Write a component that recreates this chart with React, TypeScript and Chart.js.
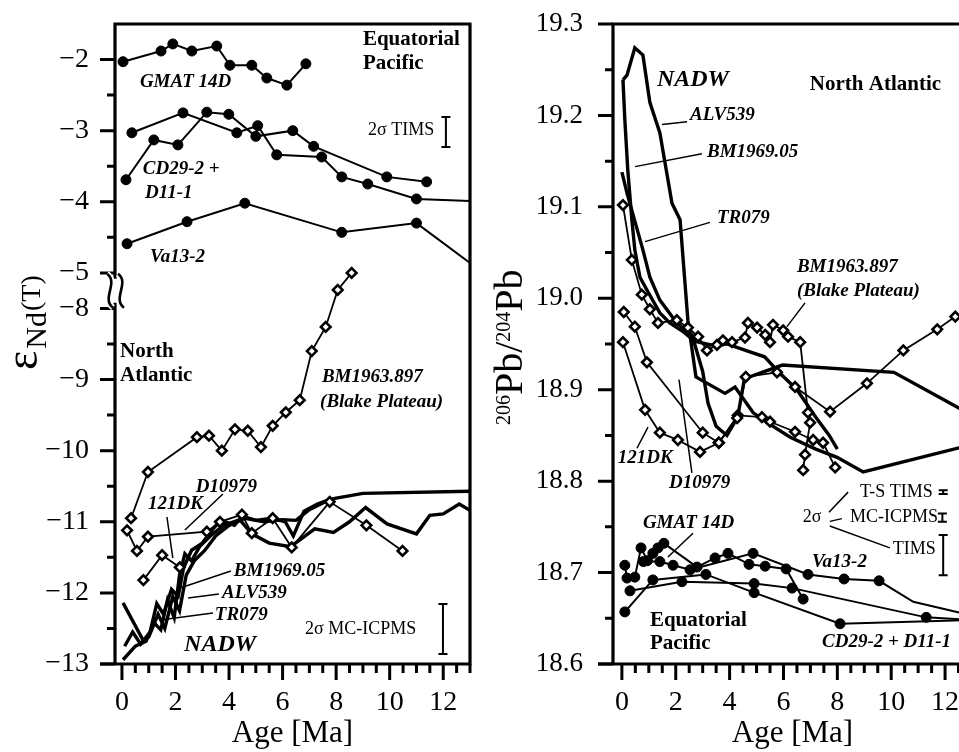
import React, { useEffect, useRef } from "react";
import { Chart, registerables } from "chart.js";

Chart.register(...registerables);

const SERIF = '"Liberation Serif", "Times New Roman", Times, serif';
const MINUS = "\u2212";

// ───────────── εNd(T) panel ─────────────
// Equatorial Pacific crusts
const GMAT14D_ND_AGE = [0.04, 1.46, 1.9, 2.61, 3.54, 4.03, 4.85, 5.41, 6.16, 6.87];
const GMAT14D_ND = [-2.03, -1.88, -1.78, -1.88, -1.81, -2.08, -2.08, -2.26, -2.36, -2.06];
const CD29_2_ND_AGE = [0.15, 1.19, 2.09, 3.17, 3.99, 5.0, 6.38, 7.16, 9.89, 11.38];
const CD29_2_ND = [-3.69, -3.13, -3.2, -2.74, -2.77, -3.08, -3.0, -3.22, -3.65, -3.72];
const D11_1_ND_AGE = [0.37, 2.28, 4.29, 5.07, 5.78, 7.46, 8.21, 9.18, 11.0, 13.0];
const D11_1_ND = [-3.03, -2.75, -3.03, -2.93, -3.34, -3.37, -3.65, -3.75, -3.96, -3.99];
const VA13_2_ND_AGE = [0.19, 2.43, 4.59, 8.21, 11.0, 13.0];
const VA13_2_ND = [-4.59, -4.28, -4.02, -4.43, -4.3, -4.86];

// North Atlantic crusts
const BM1963_ND_AGE = [0.34, 0.97, 2.8, 3.25, 3.73, 4.22, 4.7, 5.19, 5.63, 6.12, 6.64, 7.09, 7.61, 8.06, 8.58];
const BM1963_ND = [-10.95, -10.3, -9.81, -9.79, -10.0, -9.7, -9.72, -9.95, -9.65, -9.46, -9.29, -8.6, -8.26, -7.74, -7.5];
const D10979_ND_AGE = [0.19, 0.56, 0.97, 3.17, 3.66, 4.48, 4.85, 5.63, 6.34, 7.76, 9.13, 10.48];
const D10979_ND = [-11.12, -11.41, -11.21, -11.14, -11.0, -10.9, -11.16, -10.95, -11.36, -10.72, -11.05, -11.41];
const DK121_ND_AGE = [0.8, 1.5, 2.16];
const DK121_ND = [-11.82, -11.47, -11.64];
const TR079_ND_AGE = [0.04, 0.78, 1.0, 1.35, 1.6, 1.9, 2.15, 2.4, 2.7, 3.1, 3.5, 4.0, 4.6, 5.3, 6.0, 6.5, 7.0, 7.8, 9.0, 13.0];
const TR079_ND = [-12.14, -12.66, -12.62, -12.3, -12.5, -12.05, -12.25, -11.75, -11.55, -11.4, -11.2, -11.05, -10.95, -11.0, -10.97, -10.98, -10.83, -10.68, -10.6, -10.57];
const ALV539_ND_AGE = [0.04, 0.5, 0.9, 1.2, 1.45, 1.7, 1.95, 2.15, 2.35, 2.6, 2.9, 3.3, 3.8, 4.4, 4.85, 5.5, 6.3, 7.2, 7.9, 8.5, 9.1, 9.9, 11.0, 11.5, 12.0, 12.6, 13.0];
const ALV539_ND = [-12.94, -12.75, -12.68, -12.42, -12.52, -12.1, -12.35, -11.75, -11.45, -11.55, -11.35, -11.2, -11.05, -10.97, -11.17, -11.3, -11.35, -11.1, -11.15, -11.0, -10.8, -11.03, -11.17, -10.91, -10.89, -10.75, -10.84];
const BM1969_ND_AGE = [0.1, 0.4, 0.7, 1.05, 1.3, 1.55, 1.85, 2.1, 2.3, 2.6, 3.0, 3.4, 3.7, 4.2, 4.5, 5.0, 5.6, 6.1, 6.4, 6.8, 7.3, 7.8];
const BM1969_ND = [-12.75, -12.55, -12.72, -12.55, -12.15, -12.3, -11.95, -12.05, -11.65, -11.4, -11.3, -11.1, -10.98, -11.05, -10.92, -10.98, -10.95, -11.0, -11.2, -10.85, -10.75, -10.68];

const ND_MAJOR = [-2, -3, -4, -5, -8, -9, -10, -11, -12, -13];
const ND_MINOR = [-2.5, -3.5, -4.5, -8.5, -9.5, -10.5, -11.5, -12.5];

// ───────────── 206Pb/204Pb panel ─────────────
const ALV539_PB_AGE = [0.04, 0.19, 0.48, 0.78, 1.04, 1.41, 1.86, 2.16, 2.45, 2.6, 2.75, 3.83, 4.2, 4.87, 5.5, 6.25, 7.2, 7.99, 8.96, 13.0];
const ALV539_PB = [19.239, 19.244, 19.274, 19.266, 19.214, 19.181, 19.104, 19.086, 18.976, 18.945, 18.914, 18.896, 18.903, 18.875, 18.862, 18.848, 18.835, 18.826, 18.81, 18.84];
const BM1969_PB_AGE = [0.04, 0.11, 0.22, 0.37, 0.48, 0.67, 0.93, 1.41, 1.78, 2.3, 2.7, 3.3, 3.9, 4.7, 5.3, 5.8, 6.5, 7.2, 7.7, 8.0];
const BM1969_PB = [19.239, 19.195, 19.14, 19.086, 19.053, 19.023, 19.009, 18.984, 18.973, 18.963, 18.953, 18.949, 18.95, 18.942, 18.936, 18.92, 18.9, 18.87, 18.85, 18.835];
const TR079_PB_AGE = [0.0, 0.19, 0.78, 1.04, 1.41, 2.04, 2.6, 3.0, 3.2, 3.5, 3.9, 4.3, 4.55, 5.96, 10.1, 13.0];
const TR079_PB = [19.138, 19.115, 19.053, 19.023, 18.998, 18.973, 18.96, 18.92, 18.885, 18.86, 18.85, 18.87, 18.912, 18.927, 18.919, 18.872];
const BM1963_PB_AGE = [0.04, 0.37, 0.74, 1.04, 1.34, 2.04, 2.45, 2.83, 3.16, 3.53, 3.75, 4.09, 4.57, 4.68, 5.02, 5.32, 5.5, 5.61, 5.99, 6.17, 6.62, 6.91, 6.99, 6.8, 6.73];
const BM1963_PB = [19.102, 19.042, 19.004, 18.988, 18.973, 18.976, 18.968, 18.958, 18.943, 18.949, 18.954, 18.952, 18.957, 18.973, 18.968, 18.96, 18.952, 18.971, 18.965, 18.958, 18.952, 18.875, 18.864, 18.829, 18.812];
const D10979_PB_AGE = [0.07, 0.48, 0.93, 3.0, 3.6, 4.28, 4.6, 5.76, 6.43, 7.73, 9.1, 10.45, 11.71, 12.38];
const D10979_PB = [18.985, 18.969, 18.93, 18.853, 18.842, 18.869, 18.914, 18.919, 18.903, 18.876, 18.907, 18.943, 18.966, 18.98];
const DK121_PB_AGE = [0.04, 0.86, 1.41, 2.08, 2.9, 3.6, 4.3, 5.2, 5.5, 6.43, 7.1, 7.47, 7.92];
const DK121_PB = [18.952, 18.878, 18.853, 18.845, 18.832, 18.842, 18.872, 18.87, 18.865, 18.854, 18.845, 18.842, 18.815];
const GMAT14D_PB_AGE = [0.11, 0.19, 0.48, 0.71, 0.95, 1.15, 1.34, 1.56, 2.79, 3.46, 3.94, 4.72, 5.32, 6.1, 6.73];
const GMAT14D_PB = [18.708, 18.694, 18.695, 18.727, 18.713, 18.721, 18.727, 18.732, 18.706, 18.716, 18.721, 18.709, 18.707, 18.704, 18.671];
const VA13_2_PB_AGE = [0.8, 1.41, 1.9, 2.53, 4.87, 6.91, 8.25, 9.55, 10.82, 13.0];
const VA13_2_PB = [18.712, 18.712, 18.708, 18.703, 18.721, 18.698, 18.693, 18.691, 18.668, 18.653];
const CD29_2_PB_AGE = [0.11, 1.15, 3.12, 4.91, 8.1, 13.0];
const CD29_2_PB = [18.657, 18.692, 18.698, 18.678, 18.644, 18.648];
const D11_1_PB_AGE = [0.3, 2.23, 4.91, 6.32, 11.3, 13.0];
const D11_1_PB = [18.68, 18.69, 18.688, 18.683, 18.651, 18.648];

const PB_MAJOR = [18.6, 18.7, 18.8, 18.9, 19.0, 19.1, 19.2, 19.3];
const PB_MINOR = [18.65, 18.75, 18.85, 18.95, 19.05, 19.15, 19.25];

const AGE_MAJOR = [0, 2, 4, 6, 8, 10, 12];
const AGE_MINOR = [0.5, 1, 1.5, 2.5, 3, 3.5, 4.5, 5, 5.5, 6.5, 7, 7.5, 8.5, 9, 9.5, 10.5, 11, 11.5, 12.5, 13];

// The εNd axis is broken between −5 and −8; the lower block is shifted up so that
// the gap occupies half a unit.
const toAxis = (v: number) => (v < -6.5 ? v + 2.5 : v);
const fromAxis = (a: number) => (a < -5.25 ? a - 2.5 : a);
const fmtNeg = (v: number) => (v < 0 ? MINUS + String(Math.abs(v)) : String(v));

type Pt = { x: number; y: number };
type Kind = "circle" | "diamond" | "thick";

const pts = (ages: number[], vals: number[], map: (v: number) => number = (v) => v): Pt[] =>
  ages.map((a, i) => ({ x: a, y: map(vals[i]) }));

function series(label: string, data: Pt[], kind: Kind, dotted = data.length) {
  const common = { label, data, showLine: true, borderColor: "#000", clip: 0, tension: 0 };
  if (kind === "thick") {
    return { ...common, borderWidth: 3.4, pointRadius: 0, pointHoverRadius: 0 };
  }
  if (kind === "circle") {
    return {
      ...common,
      borderWidth: 2,
      pointStyle: "circle",
      pointRadius: (c: any) => (c.dataIndex < dotted ? 5 : 0),
      pointBackgroundColor: "#000",
      pointBorderColor: "#000",
      pointBorderWidth: 1,
    };
  }
  return {
    ...common,
    borderWidth: 1.8,
    pointStyle: "rectRot",
    pointRadius: (c: any) => (c.dataIndex < dotted ? 4.8 : 0),
    pointBackgroundColor: "#fff",
    pointBorderColor: "#000",
    pointBorderWidth: 2.6,
  };
}

type Label = { text: string; x: number; y: number; font: string };
type Leader = [number, number, number, number];
type ErrBar = { x: number; y1: number; y2: number };

const NAME = `italic bold 19px ${SERIF}`;
const BIG = `italic bold 24px ${SERIF}`;
const REGION = `bold 21px ${SERIF}`;
const NOTE = `18px ${SERIF}`;

interface Decor {
  yMap: (v: number) => number;
  yMajor: number[];
  yMinor: number[];
  breakAt?: [number, number];
  labels: Label[];
  leaders: Leader[];
  bars: ErrBar[];
  yTitle: (ctx: CanvasRenderingContext2D) => void;
}

function decorPlugin(d: Decor) {
  return {
    id: "decor",
    afterDatasetsDraw(chart: any) {
      const { ctx, chartArea: a, scales } = chart;
      const px = (v: number) => scales.x.getPixelForValue(v);
      const py = (v: number) => scales.y.getPixelForValue(d.yMap(v));
      ctx.save();
      ctx.strokeStyle = "#000";
      ctx.fillStyle = "#000";
      ctx.lineCap = "butt";

      // frame and axes
      ctx.lineWidth = 3.2;
      ctx.beginPath();
      ctx.moveTo(a.left - 1.5, a.top);
      ctx.lineTo(a.right + 1.5, a.top);
      ctx.moveTo(a.right, a.top);
      ctx.lineTo(a.right, a.bottom);
      ctx.moveTo(a.left - 15, a.bottom);
      ctx.lineTo(a.right + 1.5, a.bottom);
      if (d.breakAt) {
        const mid = (py(d.breakAt[0]) + py(d.breakAt[1])) / 2;
        ctx.moveTo(a.left, a.top - 1.5);
        ctx.lineTo(a.left, mid - 12);
        ctx.moveTo(a.left, mid + 12);
        ctx.lineTo(a.left, a.bottom + 1.5);
      } else {
        ctx.moveTo(a.left, a.top - 1.5);
        ctx.lineTo(a.left, a.bottom + 1.5);
      }
      ctx.stroke();

      // tick marks
      ctx.lineWidth = 3;
      ctx.beginPath();
      for (const v of d.yMajor) {
        const y = py(v);
        ctx.moveTo(a.left - 15, y);
        ctx.lineTo(a.left, y);
      }
      for (const v of d.yMinor) {
        const y = py(v);
        ctx.moveTo(a.left - 8, y);
        ctx.lineTo(a.left, y);
      }
      for (const v of AGE_MAJOR) {
        const x = px(v);
        ctx.moveTo(x, a.bottom);
        ctx.lineTo(x, a.bottom + 16);
      }
      for (const v of AGE_MINOR) {
        const x = px(v);
        ctx.moveTo(x, a.bottom);
        ctx.lineTo(x, a.bottom + 9);
      }
      ctx.stroke();

      // axis-break sign
      if (d.breakAt) {
        const mid = (py(d.breakAt[0]) + py(d.breakAt[1])) / 2;
        const wave = (cx: number) => {
          ctx.beginPath();
          ctx.moveTo(cx - 3, mid - 17);
          ctx.bezierCurveTo(cx + 9, mid - 8, cx - 9, mid + 8, cx + 3, mid + 17);
          ctx.stroke();
        };
        ctx.strokeStyle = "#fff";
        ctx.lineWidth = 6;
        wave(a.left - 5);
        wave(a.left + 6);
        ctx.strokeStyle = "#000";
        ctx.lineWidth = 2.6;
        wave(a.left - 5);
        wave(a.left + 6);
      }

      // leaders
      ctx.lineWidth = 1.5;
      ctx.beginPath();
      for (const [x1, y1, x2, y2] of d.leaders) {
        ctx.moveTo(px(x1), py(y1));
        ctx.lineTo(px(x2), py(y2));
      }
      ctx.stroke();

      // 2σ bars
      ctx.lineWidth = 2;
      ctx.beginPath();
      for (const b of d.bars) {
        const x = px(b.x);
        const y1 = py(b.y1);
        const y2 = py(b.y2);
        ctx.moveTo(x, y1);
        ctx.lineTo(x, y2);
        ctx.moveTo(x - 4.5, y1);
        ctx.lineTo(x + 4.5, y1);
        ctx.moveTo(x - 4.5, y2);
        ctx.lineTo(x + 4.5, y2);
      }
      ctx.stroke();

      // labels
      ctx.textAlign = "left";
      ctx.textBaseline = "middle";
      for (const l of d.labels) {
        ctx.font = l.font;
        ctx.fillText(l.text, px(l.x), py(l.y));
      }

      // axis titles
      ctx.textAlign = "center";
      ctx.textBaseline = "alphabetic";
      ctx.font = `31px ${SERIF}`;
      ctx.fillText("Age [Ma]", (a.left + a.right) / 2, a.bottom + 78);
      d.yTitle(ctx);
      ctx.restore();
    },
  };
}

const ND_LABELS: Label[] = [
  { text: "Equatorial", x: 9.0, y: -1.725, font: REGION },
  { text: "Pacific", x: 9.0, y: -2.05, font: REGION },
  { text: "GMAT 14D", x: 0.67, y: -2.316, font: NAME },
  { text: "CD29-2 +", x: 0.78, y: -3.54, font: NAME },
  { text: "D11-1", x: 0.86, y: -3.877, font: NAME },
  { text: "Va13-2", x: 1.05, y: -4.777, font: NAME },
  { text: "2σ TIMS", x: 9.19, y: -2.99, font: NOTE },
  { text: "North", x: -0.07, y: -8.6, font: REGION },
  { text: "Atlantic", x: -0.07, y: -8.95, font: REGION },
  { text: "BM1963.897", x: 7.47, y: -8.964, font: NAME },
  { text: "(Blake Plateau)", x: 7.4, y: -9.316, font: NAME },
  { text: "D10979", x: 2.76, y: -10.511, font: NAME },
  { text: "121DK", x: 0.97, y: -10.75, font: NAME },
  { text: "BM1969.05", x: 4.18, y: -11.692, font: NAME },
  { text: "ALV539", x: 3.74, y: -12.0, font: NAME },
  { text: "TR079", x: 3.47, y: -12.311, font: NAME },
  { text: "NADW", x: 2.32, y: -12.733, font: BIG },
  { text: "2σ MC-ICPMS", x: 6.84, y: -12.508, font: NOTE },
];
const ND_LEADERS: Leader[] = [
  [3.77, -10.609, 2.35, -11.116],
  [1.68, -10.933, 1.9, -11.51],
  [4.07, -11.692, 2.17, -11.931],
  [3.62, -12.016, 2.47, -12.072],
  [3.4, -12.283, 1.42, -12.381],
];
const ND_BARS: ErrBar[] = [
  { x: 12.1, y1: -2.808, y2: -3.23 },
  { x: 11.99, y1: -12.156, y2: -12.859 },
];

const PB_LABELS: Label[] = [
  { text: "NADW", x: 1.3, y: 19.239, font: BIG },
  { text: "North Atlantic", x: 6.98, y: 19.234, font: REGION },
  { text: "ALV539", x: 2.53, y: 19.2, font: NAME },
  { text: "BM1969.05", x: 3.16, y: 19.16, font: NAME },
  { text: "TR079", x: 3.53, y: 19.088, font: NAME },
  { text: "BM1963.897", x: 6.5, y: 19.034, font: NAME },
  { text: "(Blake Plateau)", x: 6.5, y: 19.008, font: NAME },
  { text: "121DK", x: -0.15, y: 18.825, font: NAME },
  { text: "D10979", x: 1.75, y: 18.798, font: NAME },
  { text: "GMAT 14D", x: 0.78, y: 18.754, font: NAME },
  { text: "Va13-2", x: 7.06, y: 18.712, font: NAME },
  { text: "Equatorial", x: 1.04, y: 18.648, font: REGION },
  { text: "Pacific", x: 1.04, y: 18.622, font: REGION },
  { text: "CD29-2 + D11-1", x: 7.43, y: 18.624, font: NAME },
  { text: "T-S TIMS", x: 8.84, y: 18.788, font: NOTE },
  { text: "2σ", x: 6.72, y: 18.76, font: NOTE },
  { text: "MC-ICPMS", x: 8.47, y: 18.76, font: NOTE },
  { text: "TIMS", x: 10.06, y: 18.725, font: NOTE },
];
const PB_LEADERS: Leader[] = [
  [1.49, 19.19, 2.42, 19.193],
  [0.49, 19.144, 2.97, 19.158],
  [0.86, 19.062, 3.27, 19.083],
  [6.13, 18.969, 6.8, 18.995],
  [0.56, 18.836, 0.97, 18.859],
  [2.6, 18.809, 2.12, 18.911],
  [1.71, 18.717, 2.64, 18.743],
  [7.69, 18.766, 8.4, 18.788],
  [7.72, 18.756, 8.17, 18.759],
  [7.72, 18.751, 9.95, 18.727],
];
const PB_BARS: ErrBar[] = [
  { x: 11.93, y1: 18.79, y2: 18.786 },
  { x: 11.9, y1: 18.7645, y2: 18.7555 },
  { x: 11.93, y1: 18.741, y2: 18.697 },
];

function axisOptions(xMin: number, xMax: number, yMin: number, yMax: number, yWidth: number, yPad: number, yFont: number, yTicks: number[], yFmt: (v: number) => string) {
  return {
    x: {
      type: "linear",
      min: xMin,
      max: xMax,
      afterBuildTicks: (s: any) => {
        s.ticks = AGE_MAJOR.map((v) => ({ value: v }));
      },
      afterFit: (s: any) => {
        s.height = 88;
        s.paddingLeft = 0;
        s.paddingRight = 0;
        s.paddingTop = 0;
        s.paddingBottom = 0;
      },
      grid: { display: false, drawTicks: false },
      border: { display: false },
      ticks: {
        autoSkip: false,
        maxRotation: 0,
        minRotation: 0,
        padding: 22,
        color: "#000",
        font: { family: SERIF, size: 28 },
        callback: (v: any) => String(v),
      },
    },
    y: {
      type: "linear",
      min: yMin,
      max: yMax,
      afterBuildTicks: (s: any) => {
        s.ticks = yTicks.map((v) => ({ value: v }));
      },
      afterFit: (s: any) => {
        s.width = yWidth;
        s.paddingLeft = 0;
        s.paddingRight = 0;
        s.paddingTop = 0;
        s.paddingBottom = 0;
      },
      grid: { display: false, drawTicks: false },
      border: { display: false },
      ticks: {
        autoSkip: false,
        padding: yPad,
        color: "#000",
        font: { family: SERIF, size: yFont },
        callback: (v: any) => yFmt(Number(v)),
      },
    },
  };
}

function buildNd(canvas: HTMLCanvasElement) {
  const datasets = [
    series("BM1963.897", pts(BM1963_ND_AGE, BM1963_ND, toAxis), "diamond"),
    series("D10979", pts(D10979_ND_AGE, D10979_ND, toAxis), "diamond"),
    series("121DK", pts(DK121_ND_AGE, DK121_ND, toAxis), "diamond"),
    series("GMAT 14D", pts(GMAT14D_ND_AGE, GMAT14D_ND), "circle"),
    series("CD29-2", pts(CD29_2_ND_AGE, CD29_2_ND), "circle"),
    series("D11-1", pts(D11_1_ND_AGE, D11_1_ND), "circle", D11_1_ND_AGE.length - 1),
    series("Va13-2", pts(VA13_2_ND_AGE, VA13_2_ND), "circle", VA13_2_ND_AGE.length - 1),
    series("BM1969.05", pts(BM1969_ND_AGE, BM1969_ND, toAxis), "thick"),
    series("ALV539", pts(ALV539_ND_AGE, ALV539_ND, toAxis), "thick"),
    series("TR079", pts(TR079_ND_AGE, TR079_ND, toAxis), "thick"),
  ];
  const decor: Decor = {
    yMap: toAxis,
    yMajor: ND_MAJOR,
    yMinor: ND_MINOR,
    breakAt: [-5, -8],
    labels: ND_LABELS,
    leaders: ND_LEADERS,
    bars: ND_BARS,
    yTitle: (ctx) => {
      ctx.save();
      ctx.translate(37, 370);
      ctx.rotate(-Math.PI / 2);
      ctx.textAlign = "left";
      ctx.textBaseline = "alphabetic";
      ctx.font = `46px ${SERIF}`;
      ctx.fillText("ε", 0, 0);
      let u = ctx.measureText("ε").width + 2;
      ctx.font = `30px ${SERIF}`;
      ctx.fillText("Nd", u, 9);
      u += ctx.measureText("Nd").width + 1;
      ctx.font = `28px ${SERIF}`;
      ctx.fillText("(T)", u, 3);
      ctx.restore();
    },
  };
  return new Chart(canvas, {
    type: "scatter",
    data: { datasets } as any,
    options: {
      animation: false,
      responsive: false,
      events: [],
      layout: { padding: { top: 24, right: 10, left: 0, bottom: 0 } },
      plugins: { legend: { display: false }, tooltip: { enabled: false }, title: { display: false } },
      scales: axisOptions(-0.26, 13, -10.5, -1.5, 115, 26, 28, ND_MAJOR.map(toAxis), (v) => fmtNeg(Math.round(fromAxis(v)))) as any,
    },
    plugins: [decorPlugin(decor)],
  });
}

function buildPb(canvas: HTMLCanvasElement) {
  const datasets = [
    series("BM1963.897", pts(BM1963_PB_AGE, BM1963_PB), "diamond"),
    series("D10979", pts(D10979_PB_AGE, D10979_PB), "diamond"),
    series("121DK", pts(DK121_PB_AGE, DK121_PB), "diamond"),
    series("GMAT 14D", pts(GMAT14D_PB_AGE, GMAT14D_PB), "circle"),
    series("Va13-2", pts(VA13_2_PB_AGE, VA13_2_PB), "circle", VA13_2_PB_AGE.length - 2),
    series("CD29-2", pts(CD29_2_PB_AGE, CD29_2_PB), "circle", CD29_2_PB_AGE.length - 1),
    series("D11-1", pts(D11_1_PB_AGE, D11_1_PB), "circle", D11_1_PB_AGE.length - 1),
    series("ALV539", pts(ALV539_PB_AGE, ALV539_PB), "thick"),
    series("BM1969.05", pts(BM1969_PB_AGE, BM1969_PB), "thick"),
    series("TR079", pts(TR079_PB_AGE, TR079_PB), "thick"),
  ];
  const decor: Decor = {
    yMap: (v) => v,
    yMajor: PB_MAJOR,
    yMinor: PB_MINOR,
    labels: PB_LABELS,
    leaders: PB_LEADERS,
    bars: PB_BARS,
    yTitle: (ctx) => {
      ctx.save();
      ctx.translate(42, 425);
      ctx.rotate(-Math.PI / 2);
      ctx.textAlign = "left";
      ctx.textBaseline = "alphabetic";
      const parts: [string, number, number][] = [
        ["206", 20, -12],
        ["Pb", 40, 0],
        ["/", 40, 0],
        ["204", 20, -12],
        ["Pb", 40, 0],
      ];
      let u = 0;
      for (const [t, size, dv] of parts) {
        ctx.font = `${size}px ${SERIF}`;
        ctx.fillText(t, u, dv);
        u += ctx.measureText(t).width;
      }
      ctx.restore();
    },
  };
  return new Chart(canvas, {
    type: "scatter",
    data: { datasets } as any,
    options: {
      animation: false,
      responsive: false,
      events: [],
      layout: { padding: { top: 24, right: 20, left: 0, bottom: 0 } },
      plugins: { legend: { display: false }, tooltip: { enabled: false }, title: { display: false } },
      scales: axisOptions(-0.33, 13, 18.6, 19.3, 133, 30, 27, PB_MAJOR, (v) => v.toFixed(1)) as any,
    },
    plugins: [decorPlugin(decor)],
  });
}

function Panel({ build, left, width }: { build: (c: HTMLCanvasElement) => Chart; left: number; width: number }) {
  const ref = useRef<HTMLCanvasElement>(null);
  useEffect(() => {
    const chart = build(ref.current as HTMLCanvasElement);
    return () => chart.destroy();
  }, [build]);
  return (
    <canvas
      ref={ref}
      width={width}
      height={752}
      style={{ position: "absolute", left, top: 0, width, height: 752, display: "block" }}
    />
  );
}

export default function App() {
  return (
    <div
      style={{
        position: "fixed",
        left: 0,
        top: 0,
        width: 959,
        height: 752,
        overflow: "hidden",
        background: "#fff",
      }}
    >
      <Panel build={buildNd} left={0} width={480} />
      <Panel build={buildPb} left={480} width={512} />
    </div>
  );
}
